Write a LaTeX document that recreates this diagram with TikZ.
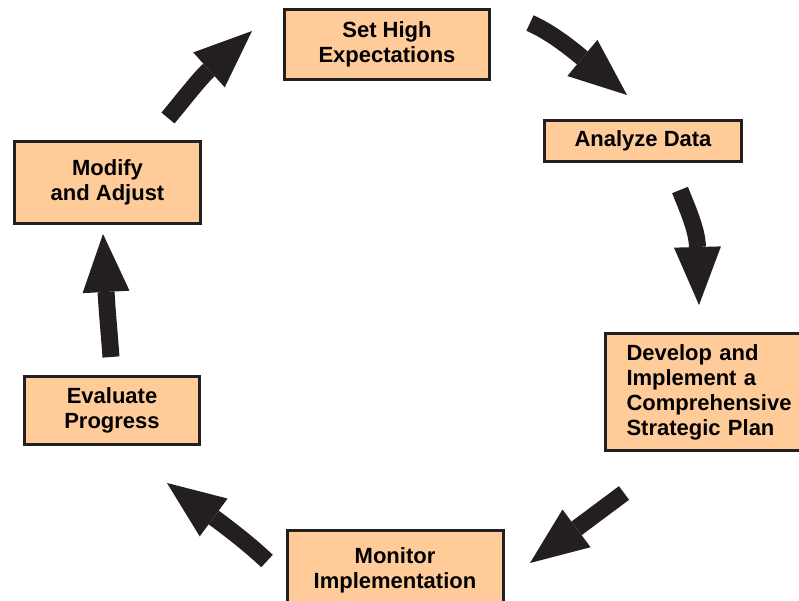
\documentclass[tikz,border=0pt]{standalone}
\usepackage{fontspec}
\setmainfont{Liberation Sans}
\usetikzlibrary{arrows.meta}
\definecolor{peach}{HTML}{FFCC99}
\definecolor{ink}{HTML}{231F20}

\begin{document}
\begin{tikzpicture}[x=1pt,y=-1pt,line join=miter,
  stagebox/.style={draw=ink,line width=3pt,fill=peach,inner sep=0pt,align=center,
    font=\fontsize{22}{25}\selectfont\bfseries},
  bigarrow/.style={draw=ink,line width=17pt,-{Triangle[length=58pt,width=47pt,line width=0pt]}}]
  \useasboundingbox (0,0) rectangle (799,601);
  % stages
  \node[stagebox,minimum width=205pt,minimum height=70pt] (expect) at (387,44.5) {Set High\\Expectations};
  \node[stagebox,minimum width=197pt,minimum height=41pt] (analyze) at (643,141) {Analyze Data};
  \node[stagebox,anchor=west,align=left,inner xsep=21.5pt,text width=190pt,minimum height=117pt] (plan) at (603.5,392) {Develop and\\Implement a\\Comprehensive\\Strategic Plan};
  \node[stagebox,minimum width=216pt,minimum height=79pt] (monitor) at (395,570) {Monitor\\Implementation};
  \node[stagebox,minimum width=175pt,minimum height=68pt] (evaluate) at (112,410.5) {Evaluate\\Progress};
  \node[stagebox,minimum width=186pt,minimum height=82pt] (modify) at (107.5,182.5) {Modify\\and Adjust};
  % arrow ends
  \coordinate (a1s) at (530,23);  \coordinate (a1e) at (627,95);
  \coordinate (a2s) at (680,190); \coordinate (a2e) at (699,305);
  \coordinate (a3s) at (624,493); \coordinate (a3e) at (530,563);
  \coordinate (a4s) at (267,561); \coordinate (a4e) at (167,483);
  \coordinate (a5s) at (111,357); \coordinate (a5e) at (103,234);
  \coordinate (a6s) at (168,118); \coordinate (a6e) at (252,31);
  % cycle arrows
  \draw[bigarrow] (a1s) .. controls (550,32) and (568,46) .. (a1e);
  \draw[bigarrow] (a2s) .. controls (688,210) and (697,230) .. (a2e);
  \draw[bigarrow] (a3s) -- (a3e);
  \draw[bigarrow] (a4s) .. controls (250,545) and (232,531) .. (a4e);
  \draw[bigarrow] (a5s) .. controls (109,330) and (107,310) .. (a5e);
  \draw[bigarrow] (a6s) .. controls (183,100) and (200,78) .. (a6e);
\end{tikzpicture}
\end{document}
